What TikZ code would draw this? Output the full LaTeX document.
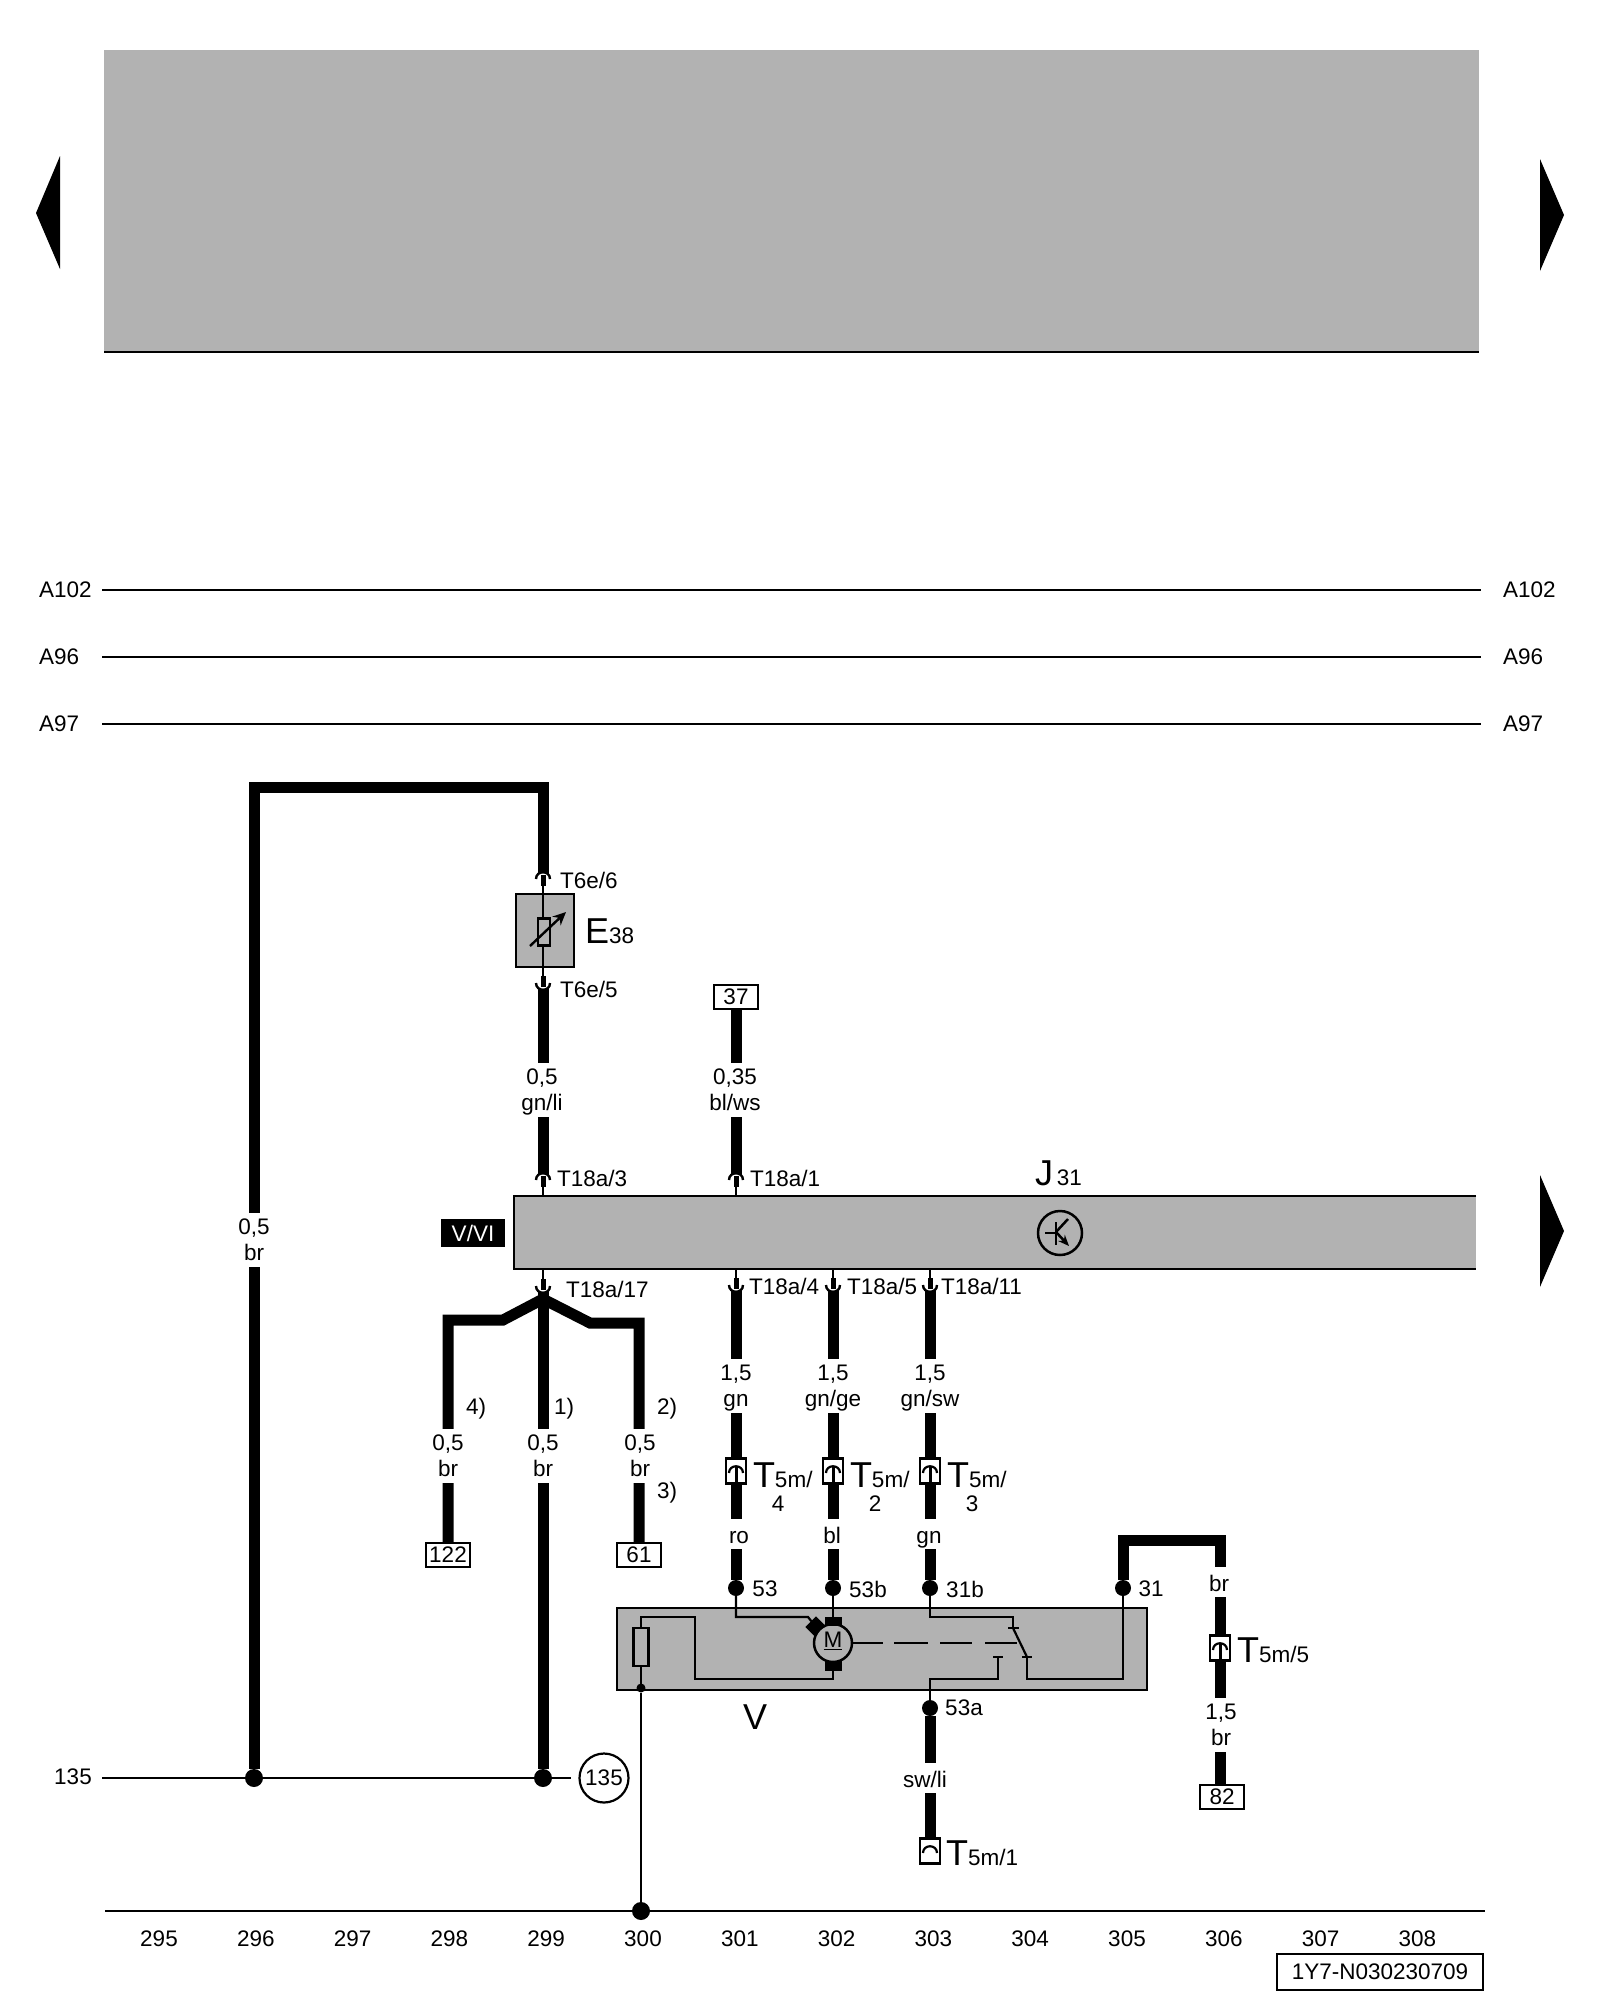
\documentclass[tikz,border=0pt]{standalone}
\usepackage{fontspec}
\setmainfont{Liberation Sans}
\usetikzlibrary{arrows.meta}
\definecolor{panelgray}{HTML}{B2B2B2}
\newcommand{\bigsym}[1]{{\fontsize{36}{36}\selectfont #1}}
\tikzset{%
  every node/.style={
    inner sep=0pt,
    outer sep=0pt
  },
  thickwire/.style={line width=11pt, line join=miter},
  thinwire/.style={line width=2.2pt},
  rail/.style={line width=2.2pt},
  panel/.style={fill=panelgray},
  wirelabel/.style={fill=white, align=center, text height=46pt, text depth=6pt, minimum height=54pt, inner xsep=2pt},
  shortlabel/.style={fill=white, text height=22pt, text depth=4pt, minimum height=30pt, inner xsep=2pt},
  refbox/.style={draw, line width=2.2pt, fill=white, minimum width=44pt, minimum height=24pt},
  plugbox/.style={draw, line width=2.2pt, fill=white, minimum width=20pt, minimum height=25pt},
  wiredot/.style={circle, fill=black, minimum size=16pt},
  railnode/.style={circle, fill=black, minimum size=18pt},
  tick/.style={line width=2.2pt},
  pinup/.pic={
    \draw [line width=2.4pt] (-7,0) .. controls (-7,-9) and (7,-9) .. (7,0);
    \draw [line width=5pt] (0,-4) -- (0,7);
  },
  pindown/.pic={
    \draw [line width=2.4pt] (-7,0) .. controls (-7,9) and (7,9) .. (7,0);
    \draw [line width=5pt] (0,4) -- (0,-7);
  },
  plugcurve/.pic={
    \draw [line width=2.2pt] (-7,2) .. controls (-7,-7) and (7,-7) .. (7,2);
  },
}

\begin{document}
\begin{tikzpicture}[x=1pt, y=-1pt, >=stealth, font=\fontsize{22.5}{26}\selectfont]
    \useasboundingbox (0,0) rectangle (1600,2000);

    \fill [panelgray] (104,50) rectangle (1479,352);
    \draw [rail] (104,352) -- (1479,352);
    \fill (36,213) -- (60,156) -- (60,269) -- cycle;
    \fill (1564,215) -- (1540,159) -- (1540,271) -- cycle;
    \fill (1564,1231) -- (1540,1175) -- (1540,1287) -- cycle;

    \foreach \l/\y in {A102/590, A96/657, A97/724} {
      \node [anchor=west] (left-\l) at (39,\y) {\l};
      \node [anchor=west] (right-\l) at (1503,\y) {\l};
      \draw [rail] (102,\y) -- (1481,\y);
    }

    \node [panel, draw, line width=2.2pt, minimum width=58pt, minimum height=73pt, anchor=north west] (E38) at (516,894) {};
    \node [panel, minimum width=962pt, minimum height=73pt, anchor=north west] (J31) at (514,1196) {};
    \draw [line width=2.5pt] (J31.north east) -- (J31.north west) -- (J31.south west) -- (J31.south east);
    \node [panel, draw, line width=2.5pt, minimum width=530pt, minimum height=82pt, anchor=north west] (V) at (617,1608) {};

    \node [refbox] (ref-37) at (736,997) {37};
    \node [refbox] (ref-122) at (448,1555) {122};
    \node [refbox] (ref-61) at (639,1555) {61};
    \node [refbox] (ref-82) at (1222,1797) {82};

    \foreach \n/\x/\y in {t6e6/543/879, t18a3/543/1180, t18a1/736/1180} {
      \coordinate (\n) at (\x,\y);
      \coordinate (\n-cap) at (\x,\y-6);
      \pic at (\n) {pinup};
    }
    \foreach \n/\x/\y in {t6e5/543/983, t18a17/543/1286, t18a4/736/1285, t18a5/833/1285, t18a11/930/1285} {
      \coordinate (\n) at (\x,\y);
      \coordinate (\n-cap) at (\x,\y+6);
      \pic at (\n) {pindown};
    }

    \foreach \n/\x in {53/736, 53b/833, 31b/930, 31/1123}
      \node [wiredot] (dot-\n) at (\x,1588) {};
    \node [wiredot] (dot-53a) at (930,1708) {};
    \node [railnode] (rail-296) at (254,1778) {};
    \node [railnode] (rail-299) at (543,1778) {};
    \node [railnode] (ground) at (641,1911) {};
    \node [circle, fill=black, minimum size=9pt] (fuse-dot) at (641,1688) {};

    \coordinate (rail-start) at (102,1778);
    \coordinate (rail-end) at (571,1778);
    \coordinate (ground-start) at (105,1911);
    \coordinate (ground-end) at (1485,1911);
    \draw [rail] (rail-start) -- (rail-end);
    \draw [rail] (ground-start) -- (ground-end);

    \draw [thickwire] (rail-296) -- (254,787) -- (543,787) -- (t6e6-cap);
    \draw [thinwire] (t6e6) -- (t6e5);
    \draw [thickwire] (t6e5-cap) -- (t18a3-cap);
    \draw [thinwire] (t18a3) -- (t18a3 |- J31.north);
    \draw [thickwire] (ref-37) -- (t18a1-cap);
    \draw [thinwire] (t18a1) -- (t18a1 |- J31.north);

    \foreach \n in {t18a17,t18a4,t18a5,t18a11}
      \draw [thinwire] (\n) -- (\n |- J31.south);
    \draw [thickwire] (t18a17-cap) -- (rail-299);
    \draw [thickwire] (ref-122) -- (448,1320) -- (503,1320) -- (543,1299) -- (590,1323) -- (639,1323) -- (ref-61);

    \foreach \m/\x/\p in {4/736/t18a4, 2/833/t18a5, 3/930/t18a11} {
      \node [plugbox] (plug-\m) at (\x,1471) {};
      \draw [thickwire] (\p-cap) -- (plug-\m.north);
      \pic at (plug-\m.center) {plugcurve};
      \draw [line width=3pt] (plug-\m.center) ++(0,-4) -- (plug-\m.south);
    }
    \draw [thickwire] (plug-4.south) -- (dot-53);
    \draw [thickwire] (plug-2.south) -- (dot-53b);
    \draw [thickwire] (plug-3.south) -- (dot-31b);

    \node [plugbox] (plug-5) at (1220,1648) {};
    \pic at (plug-5.center) {plugcurve};
    \draw [line width=3pt] (plug-5.center) ++(0,-4) -- (plug-5.south);
    \draw [thickwire] (dot-31) -- (1123,1540) -- (1220,1540) -- (plug-5.north);
    \draw [thickwire] (plug-5.south) -- (plug-5.south |- ref-82.north);

    \node [plugbox] (plug-1) at (930,1851) {};
    \pic at (plug-1.center) {plugcurve};
    \draw [thickwire] (dot-53a) -- (plug-1.north);

    \node [draw, line width=2.2pt, fill=panelgray, minimum width=12pt, minimum height=27pt] (e38-res) at (544,932) {};
    \draw [->, line width=2.4pt, >={Stealth[length=13pt,width=12pt]}] (530,946) -- (566,912);

    \node [circle, draw, line width=2.5pt, minimum size=44pt] (relay) at (1060,1233) {};
    \draw [line width=2.5pt] (1045,1233) -- (1056,1233);
    \draw [line width=2.5pt] (1056,1222) -- (1056,1245);
    \draw [line width=2.5pt] (1056,1232) -- (1068,1219);
    \draw [->, line width=2.5pt, >={Stealth[length=11pt,width=9pt]}] (1056,1232) -- (1069,1246);

    \node [fill=black, minimum size=15pt, rotate=45] (brush) at (816,1627) {};
    \node [circle, draw, line width=2.5pt, fill=panelgray, minimum size=38pt] (motor) at (833,1643) {};
    \node (motor-M) at (833,1641) {\underline{M}};
    \node [fill=black, minimum width=17pt, minimum height=9pt] (cap-top) at (833,1621.5) {};
    \node [fill=black, minimum width=17pt, minimum height=10pt] (cap-bottom) at (833,1666) {};

    \draw [thinwire] (dot-53) -- (736,1617) -- (808,1617) -- (brush);
    \draw [thinwire] (dot-53b) -- (cap-top);
    \draw [thinwire] (cap-bottom) -- (833,1679) -- (695,1679) -- (695,1617) -- (641,1617) -- (fuse-dot);
    \node [draw, line width=2.2pt, fill=panelgray, minimum width=15pt, minimum height=38pt] (fuse) at (641,1647) {};
    \draw [thinwire] (fuse-dot) -- (ground);
    \draw [thinwire, dash pattern=on 31pt off 11pt on 34pt off 12pt on 32pt off 13pt on 31pt off 0pt] (motor.east) -- (1017,1643);

    \draw [thinwire] (dot-31b) -- (930,1617) -- (1013,1617) -- (1013,1628);
    \draw [tick] (1008,1628) -- (1019,1628);
    \draw [thinwire] (1013,1628) -- (1027,1657);
    \draw [tick] (1022,1657) -- (1032,1657);
    \draw [thinwire] (1027,1657) -- (1027,1679) -- (1123,1679) -- (dot-31);
    \draw [tick] (993,1657) -- (1003,1657);
    \draw [thinwire] (998,1657) -- (998,1679) -- (930,1679) -- (dot-53a);

    \node [wirelabel] (lab-296) at (254,1240) {0,5\\br};
    \node [wirelabel] (lab-e38) at (542,1090) {0,5\\gn/li};
    \node [wirelabel] (lab-37) at (735,1090) {0,35\\bl/ws};
    \foreach \n/\x in {122/448, 299/543, 61/640}
      \node [wirelabel] (lab-\n) at (\x,1456) {0,5\\br};
    \node [wirelabel] (lab-301) at (736,1386) {1,5\\gn};
    \node [wirelabel] (lab-302) at (833,1386) {1,5\\gn/ge};
    \node [wirelabel] (lab-303) at (930,1386) {1,5\\gn/sw};
    \node [shortlabel] (lab-ro) at (739,1534) {ro};
    \node [shortlabel] (lab-bl) at (832,1534) {bl};
    \node [shortlabel] (lab-gn) at (929,1534) {gn};
    \node [shortlabel] (lab-br) at (1219,1582) {br};
    \node [wirelabel] (lab-306) at (1221,1725) {1,5\\br};
    \node [shortlabel] (lab-swli) at (925,1778) {sw/li};

    \node [anchor=west] (pin-t6e6) at (560,880) {T6e/6};
    \node [anchor=west] (pin-t6e5) at (560,989) {T6e/5};
    \node [anchor=west] (pin-t18a3) at (557,1178) {T18a/3};
    \node [anchor=west] (pin-t18a1) at (750,1178) {T18a/1};
    \node [anchor=west] (pin-t18a17) at (566,1289) {T18a/17};
    \node [anchor=west] (pin-t18a4) at (749,1286) {T18a/4};
    \node [anchor=west] (pin-t18a5) at (847,1286) {T18a/5};
    \node [anchor=west] (pin-t18a11) at (941,1286) {T18a/11};

    \node [anchor=base west] (name-E) at (585,943) {\bigsym{E}38};
    \node [anchor=base west] (name-J) at (1035,1185) {\bigsym{J}\,31};
    \node [anchor=base] (name-V) at (755,1729) {\bigsym{V}};
    \node [fill=black, text=white, minimum width=64pt, minimum height=28pt] (sheet) at (473,1233) {V/VI};

    \foreach \n/\x/\y in {4/476/1409, 1/564/1409, 2/667/1409, 3/667/1493}
      \node (note-\n) at (\x,\y) {\n)};

    \foreach \m/\x in {4/753, 2/850, 3/947} {
      \node [anchor=base west] (name-t\m) at (\x,1487) {\bigsym{T}5m/};
      \node [below=9pt] (name-t\m b) at (\x+25,1487) {\m};
    }
    \node [anchor=base west] (name-t5) at (1237,1662) {\bigsym{T}5m/5};
    \node [anchor=base west] (name-t1) at (946,1865) {\bigsym{T}5m/1};

    \foreach \n/\x/\y in {53/765/1589, 53b/868/1589, 31b/965/1589, 31/1151/1589, 53a/964/1708}
      \node (term-\n) at (\x,\y) {\n};

    \node (rail-label) at (73,1777) {135};
    \node [circle, draw, line width=2.2pt, minimum size=49pt] (rail-ref) at (604,1778) {135};

    \foreach \l [count=\i from 0] in {295,...,308}
      \node (col-\l) at (159+96.8*\i,1939) {\l};

    \node [draw, line width=2.2pt, minimum width=206pt, minimum height=36pt] (docid) at (1380,1972) {1Y7-N030230709};
\end{tikzpicture}
\end{document}
